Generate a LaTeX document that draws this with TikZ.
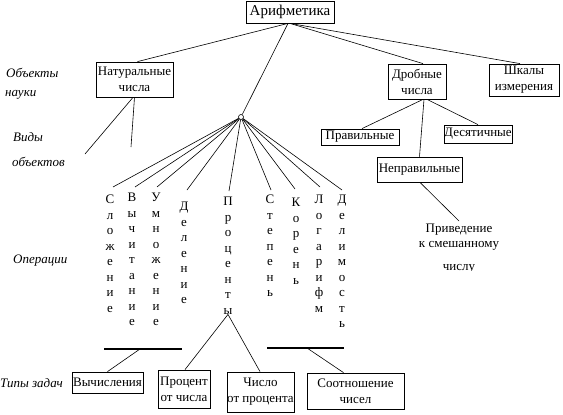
\documentclass[tikz,border=0pt]{standalone}
\usepackage{fontspec}
\setmainfont{Liberation Serif}
\begin{document}
\begin{tikzpicture}[x=1pt,y=-1pt,
  box/.style={draw, line width=0.8pt, inner sep=0pt, align=center, font=\fontsize{13}{16}\selectfont},
  conn/.style={line width=0.6pt},
  bar/.style={line width=2pt},
  lab/.style={font=\fontsize{13}{15}\selectfont\itshape, anchor=west, inner sep=0pt},
  vword/.style={anchor=north, inner sep=0pt, align=center, font=\fontsize{13}{15.5}\selectfont},
  plain/.style={anchor=north, inner sep=0pt, align=center, font=\fontsize{13}{15}\selectfont}
]
\useasboundingbox (0,0) rectangle (563,415);

% boxes
\node[box, minimum width=88, minimum height=22, font=\fontsize{15}{16}\selectfont] (ar) at (290,12) {Арифметика};
\node[box, minimum width=77, minimum height=35] (nat) at (134.5,79.5) {Натуральные\\числа};
\node[box, minimum width=58, minimum height=35] (drob) at (417,81.5) {Дробные\\числа};
\node[box, minimum width=70, minimum height=32] (shk) at (524,80) {Шкалы\\измерения};
\node[box, minimum width=78, minimum height=16] (prav) at (360,137) {Правильные};
\node[box, minimum width=68, minimum height=18] (des) at (478,134) {Десятичные};
\node[box, minimum width=85, minimum height=25] (neprav) at (419.5,169.5) {Неправильные};
\node[box, minimum width=71, minimum height=21] (vychb) at (107.5,382.5) {Вычисления};
\node[box, minimum width=52, minimum height=38] (procb) at (184,389) {Процент\\от числа};
\node[box, minimum width=67, minimum height=40] (chisb) at (260.5,392) {Число\\от процента};
\node[box, minimum width=97, minimum height=36] (sootb) at (355.5,391) {Соотношение\\чисел};

% hub
\node[circle, draw, line width=0.6pt, inner sep=0pt, minimum size=5pt] (hub) at (241,117) {};

% left labels
\node[lab] (l1) at (6,73) {Объекты};
\node[lab] (l2) at (5,95) {науки};
\node[lab] (l3) at (13,137) {Виды};
\node[lab] (l4) at (12,162) {объектов};
\node[lab] (l5) at (13,261) {Операции};
\node[lab] (l6) at (0,383) {Типы задач};

% vertical words
\node[vword] (slozh) at (110,195) {С\\л\\о\\ж\\е\\н\\и\\е};
\node[vword] (vych) at (132,193) {В\\ы\\ч\\и\\т\\а\\н\\и\\е};
\node[vword] (umn) at (156,193) {У\\м\\н\\о\\ж\\е\\н\\и\\е};
\node[vword] (del) at (184,202) {Д\\е\\л\\е\\н\\и\\е};
\node[vword] (pct) at (228,197) {П\\р\\о\\ц\\е\\н\\т\\ы};
\node[vword] (stp) at (270,195) {С\\т\\е\\п\\е\\н\\ь};
\node[vword] (kor) at (296,198) {К\\о\\р\\е\\н\\ь};
\node[vword] (logn) at (319,195) {Л\\о\\г\\а\\р\\и\\ф\\м};
\node[vword] (delim) at (342,195) {Д\\е\\л\\и\\м\\о\\с\\т\\ь};

% Приведение text (last line cut off)
\begin{scope}
\clip (380,215) rectangle (540,270);
\node[plain] (priv) at (459,224) {Приведение\\к смешанному\\[8pt]числу};
\end{scope}

% free ends
\coordinate (v1) at (85,154);
\coordinate (v2) at (131,147);
\coordinate (b1a) at (104,349);
\coordinate (b1b) at (182,349);
\coordinate (b1m) at (140,349);
\coordinate (b2a) at (267,348);
\coordinate (b2b) at (344,348);
\coordinate (b2m) at (307,348);

% connectors
\draw[conn] ([xshift=-2pt]ar.south) -- ([xshift=3pt]nat.north);
\draw[conn] ([xshift=-2pt]ar.south) -- (hub);
\draw[conn] (ar.south) -- ([xshift=6pt]drob.north);
\draw[conn] (ar.south) -- ([xshift=-4pt]shk.north);
\draw[conn] ([xshift=-1.5pt]nat.south) -- (v1);
\draw[conn] (nat.south) -- (v2);
\draw[conn] ([xshift=6pt]drob.south) -- ([xshift=2pt]prav.north);
\draw[conn] ([xshift=10pt]drob.south) -- (des.north);
\draw[conn] ([xshift=7pt]drob.south) -- (neprav.north);
\draw[conn] ([xshift=0.5pt]neprav.south) -- ([yshift=3pt]priv.north);

\draw[conn] (hub) -- ([xshift=3pt,yshift=8pt]slozh.north);
\draw[conn] (hub) -- ([xshift=3pt,yshift=6pt]vych.north);
\draw[conn] (hub) -- ([xshift=1pt,yshift=6pt]umn.north);
\draw[conn] (hub) -- ([xshift=3pt,yshift=12pt]del.north);
\draw[conn] (hub) -- ([xshift=1pt,yshift=6pt]pct.north);
\draw[conn] (hub) -- ([xshift=1pt,yshift=5pt]stp.north);
\draw[conn] (hub) -- ([xshift=-1pt,yshift=9pt]kor.north);
\draw[conn] (hub) -- ([xshift=1pt,yshift=8pt]logn.north);
\draw[conn] (hub) -- ([yshift=5pt]delim.north);

\draw[conn] (pct.south) -- ([xshift=1pt]procb.north);
\draw[conn] (pct.south) -- ([xshift=-0.5pt]chisb.north);

\draw[bar] (b1a) -- (b1b);
\draw[bar] (b2a) -- (b2b);
\draw[conn] (b1m) -- (vychb.north);
\draw[conn] (b2m) -- ([xshift=-12pt]sootb.north);
\end{tikzpicture}
\end{document}
